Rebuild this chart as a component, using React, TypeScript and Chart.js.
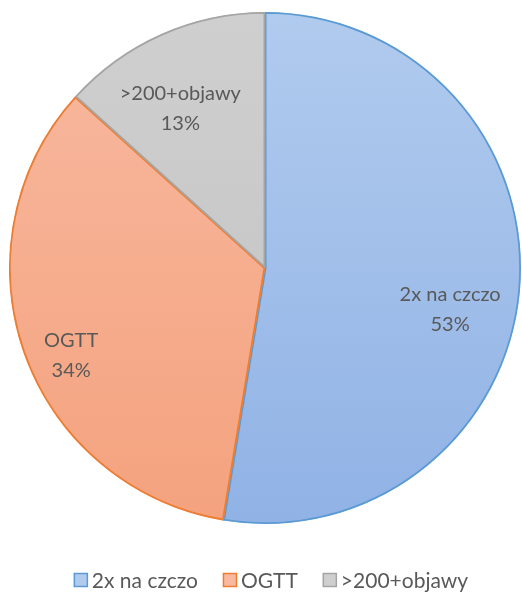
import React, { useEffect, useRef } from "react";
import { Chart, registerables } from "chart.js";

Chart.register(...registerables);

const categories = ["2x na czczo", "OGTT", ">200+objawy"];
const values = [52.6, 34.1, 13.3];

const fillTop = ["#b1cbee", "#f8b9a0", "#cfcfcf"];
const fillBottom = ["#90b2e5", "#f4a27e", "#c2c2c2"];
const borderColors = ["#5b9bd5", "#ed7d31", "#a5a5a5"];
const labelT = [0.54, 0.46, 0.42];
const labelR = [0.74, 0.83, 0.71];

export default function App() {
  const ref = useRef<HTMLCanvasElement | null>(null);
  useEffect(() => {
    if (!ref.current) return;
    const gradFor = (ctx: any, i: number) => {
      const ca = ctx.chart.chartArea;
      if (!ca) return fillTop[i];
      const g = ctx.chart.ctx.createLinearGradient(0, ca.top, 0, ca.bottom);
      g.addColorStop(0, fillTop[i]);
      g.addColorStop(1, fillBottom[i]);
      return g;
    };
    const labelPlugin = {
      id: "sliceLabels",
      afterDatasetsDraw(chart: any) {
        const c = chart.ctx;
        const meta = chart.getDatasetMeta(0);
        const total = values.reduce((s, v) => s + v, 0);
        c.save();
        c.fillStyle = "#595959";
        c.font = "20px Lato, 'Noto Sans', sans-serif";
        c.textAlign = "center";
        c.textBaseline = "middle";
        meta.data.forEach((arc: any, i: number) => {
          const a = arc.startAngle + (arc.endAngle - arc.startAngle) * labelT[i];
          const r = arc.outerRadius * labelR[i];
          const x = arc.x + Math.cos(a) * r;
          const y = arc.y + Math.sin(a) * r;
          c.fillText(categories[i], x, y - 14);
          c.fillText(Math.round((values[i] / total) * 100) + "%", x, y + 16);
        });
        c.restore();
      },
    };
    const legendPlugin = {
      id: "customLegend",
      afterDraw(chart: any) {
        const c = chart.ctx;
        c.save();
        c.font = "21px Lato, 'Noto Sans', sans-serif";
        c.textBaseline = "middle";
        const box = 14, gapBox = 4, gapItem = 25;
        const widths = categories.map((t) => c.measureText(t).width);
        const total = widths.reduce((s, w) => s + box + gapBox + w, 0) + gapItem * (categories.length - 1);
        let x = 271 - total / 2;
        const y = 580;
        categories.forEach((t, i) => {
          c.fillStyle = fillTop[i];
          c.fillRect(x, y - box / 2, box, box);
          c.strokeStyle = borderColors[i];
          c.lineWidth = 1.5;
          c.strokeRect(x + 0.5, y - box / 2 + 0.5, box - 1, box - 1);
          c.fillStyle = "#595959";
          c.fillText(t, x + box + gapBox, y + 1);
          x += box + gapBox + widths[i] + gapItem;
        });
        c.restore();
      },
    };
    const chart = new Chart(ref.current, {
      type: "pie",
      data: {
        labels: categories,
        datasets: [
          {
            data: values,
            backgroundColor: (ctx: any) => gradFor(ctx, ctx.dataIndex),
            borderColor: borderColors,
            borderWidth: 1.5,
            borderAlign: "inner",
          },
        ],
      },
      options: {
        responsive: false,
        animation: false,
        layout: { padding: { top: 12, left: 9, right: 1, bottom: 69 } },
        plugins: { legend: { display: false }, tooltip: { enabled: false } },
      },
      plugins: [labelPlugin, legendPlugin],
    });
    return () => chart.destroy();
  }, []);
  return (
    <div style={{ position: "absolute", left: 0, top: 0, width: 522, height: 593, background: "#fff" }}>
      <canvas ref={ref} width={522} height={593} style={{ width: 522, height: 593, display: "block" }} />
    </div>
  );
}
